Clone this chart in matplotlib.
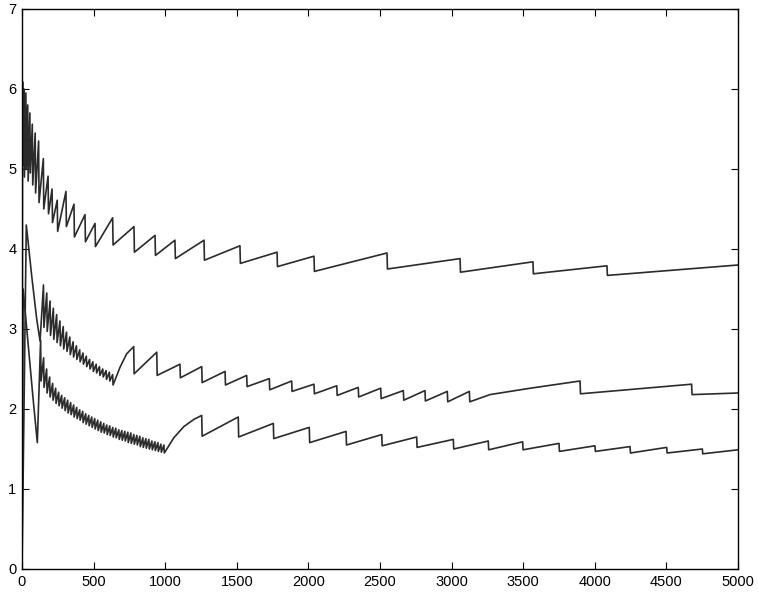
import numpy as np
from matplotlib import pyplot as plt

plt.rcParams["font.family"] = ["Liberation Sans", "DejaVu Sans"]

# Upper curve
upper_start_x = [0]
upper_start_y = [0.0]
upper_drop_x = [4, 14, 27, 40, 55, 72, 92, 116, 149, 182,
                210, 246, 307, 363, 440, 510, 633, 782, 929, 1068,
                1271, 1522, 1781, 2039, 2549, 3059, 3568, 4085]
upper_peak = [6.09, 6.00, 5.95, 5.80, 5.70, 5.56, 5.45, 5.35, 5.13, 4.91,
              4.75, 4.61, 4.72, 4.56, 4.43, 4.32, 4.39, 4.28, 4.17, 4.11,
              4.11, 4.04, 3.96, 3.91, 3.95, 3.88, 3.84, 3.79]
upper_trough = [5.05, 4.90, 5.00, 4.85, 4.95, 4.80, 4.70, 4.58, 4.50, 4.44,
                4.33, 4.22, 4.28, 4.15, 4.09, 4.03, 4.05, 3.96, 3.92, 3.88,
                3.86, 3.82, 3.78, 3.72, 3.75, 3.71, 3.69, 3.67]
upper_bend_x = []
upper_bend_y = []
upper_end = (5000, 3.80)

# Middle curve
middle_start_x = [0, 30, 68, 103, 126]
middle_start_y = [0.0, 4.30, 3.66, 3.12, 2.85]
middle_drop_x = [150, 173, 196, 219, 242, 265, 288, 311, 334, 357,
                 380, 403, 426, 449, 472, 495, 518, 541, 564, 587,
                 610, 633,
                 780, 941, 1103, 1255, 1418, 1569, 1727, 1883, 2039, 2198,
                 2348, 2505, 2663, 2814, 2970, 3124, 3897, 4676]
middle_peak = [3.55, 3.45, 3.35, 3.26, 3.18, 3.10, 3.03, 2.96, 2.90, 2.84,
               2.79, 2.74, 2.70, 2.66, 2.62, 2.59, 2.56, 2.53, 2.50, 2.48,
               2.46, 2.43,
               2.78, 2.71, 2.56, 2.53, 2.47, 2.42, 2.38, 2.35, 2.31, 2.29,
               2.27, 2.26, 2.23, 2.23, 2.22, 2.22, 2.35, 2.31]
middle_trough = [3.02, 2.97, 2.92, 2.87, 2.83, 2.79, 2.75, 2.72, 2.68, 2.65,
                 2.62, 2.59, 2.56, 2.53, 2.50, 2.47, 2.45, 2.42, 2.40, 2.37,
                 2.35, 2.30,
                 2.44, 2.42, 2.39, 2.33, 2.30, 2.28, 2.24, 2.22, 2.19, 2.17,
                 2.15, 2.13, 2.11, 2.10, 2.09, 2.09, 2.19, 2.18]
middle_bend_x = [684, 731, 3268, 3550]
middle_bend_y = [2.52, 2.69, 2.18, 2.26]
middle_end = (5000, 2.20)

# Lower curve
lower_start_x = [0, 8, 51, 79, 107]
lower_start_y = [0.0, 3.50, 2.65, 2.10, 1.58]
lower_drop_x = [130, 151, 172, 193, 214, 235, 256, 277, 298, 319,
                340, 361, 382, 403, 424, 445, 466, 487, 508, 529,
                550, 571, 592, 613, 634, 655, 676, 697, 718, 739,
                760, 781, 802, 823, 844, 865, 886, 907, 928, 949,
                970, 991,
                1255, 1510, 1755, 2006, 2263, 2512, 2756, 3012, 3256, 3496,
                3750, 4001, 4246, 4502, 4751]
lower_peak = [2.86, 2.64, 2.50, 2.40, 2.32, 2.26, 2.21, 2.17, 2.14, 2.11,
              2.08, 2.05, 2.02, 1.99, 1.97, 1.94, 1.92, 1.90, 1.88, 1.86,
              1.84, 1.82, 1.80, 1.79, 1.77, 1.76, 1.74, 1.73, 1.72, 1.71,
              1.70, 1.68, 1.67, 1.66, 1.64, 1.63, 1.62, 1.60, 1.59, 1.58,
              1.56, 1.55,
              1.92, 1.90, 1.82, 1.77, 1.72, 1.68, 1.65, 1.62, 1.60, 1.59,
              1.57, 1.54, 1.53, 1.52, 1.50]
lower_trough = [2.35, 2.27, 2.20, 2.15, 2.11, 2.07, 2.04, 2.01, 1.98, 1.95,
                1.93, 1.90, 1.88, 1.86, 1.83, 1.81, 1.79, 1.77, 1.75, 1.73,
                1.71, 1.70, 1.68, 1.67, 1.65, 1.64, 1.62, 1.61, 1.60, 1.58,
                1.57, 1.56, 1.55, 1.53, 1.52, 1.51, 1.50, 1.49, 1.48, 1.47,
                1.46, 1.45,
                1.66, 1.65, 1.63, 1.58, 1.55, 1.54, 1.52, 1.50, 1.49, 1.49,
                1.47, 1.47, 1.45, 1.45, 1.44]
lower_bend_x = [1060, 1130, 1200]
lower_bend_y = [1.64, 1.78, 1.87]
lower_end = (5000, 1.49)

x_ticks = list(range(0, 5001, 500))
y_ticks = list(range(0, 8))


def build_curve(start_x, start_y, drop_x, peaks, troughs, bend_x, bend_y, end):
    # each tooth: peak value, then an almost vertical drop to the trough
    x = list(start_x) + list(bend_x) + [end[0]]
    y = list(start_y) + list(bend_y) + [end[1]]
    for d, p, t in zip(drop_x, peaks, troughs):
        x += [d, d + 3]
        y += [p, t]
    x = np.array(x, dtype=float)
    y = np.array(y, dtype=float)
    order = np.argsort(x, kind="stable")
    return x[order], y[order]


curves = [
    build_curve(upper_start_x, upper_start_y, upper_drop_x, upper_peak,
                upper_trough, upper_bend_x, upper_bend_y, upper_end),
    build_curve(middle_start_x, middle_start_y, middle_drop_x, middle_peak,
                middle_trough, middle_bend_x, middle_bend_y, middle_end),
    build_curve(lower_start_x, lower_start_y, lower_drop_x, lower_peak,
                lower_trough, lower_bend_x, lower_bend_y, lower_end),
]

fig = plt.figure(figsize=(7.58, 5.99), dpi=100)
ax = fig.add_axes([22 / 758, 1 - 569 / 599, 716 / 758, 560 / 599])

for x, y in curves:
    ax.plot(x, y, color="#2b2b2b", linewidth=1.2)

ax.set_xlim(0, 5000)
ax.set_ylim(0, 7)
ax.set_xticks(x_ticks)
ax.set_yticks(y_ticks)
ax.tick_params(direction="in", top=True, right=True, length=5, width=0.8,
               labelsize=10.5, pad=4)
for spine in ax.spines.values():
    spine.set_linewidth(1.0)

fig.savefig("out.png", dpi=100)
